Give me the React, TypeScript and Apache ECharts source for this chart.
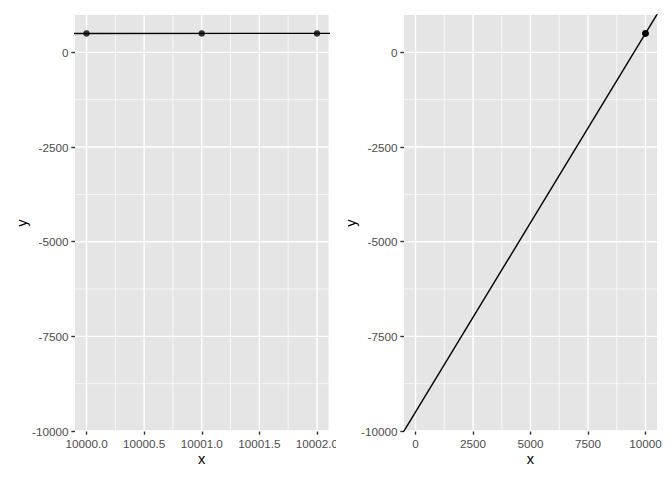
import React, { useEffect, useRef } from "react";
import * as echarts from "echarts";

// data points
const pointX = [10000, 10001, 10002];
const pointY = [500, 500, 500];
// reference line y = intercept + slope * x
const ablineIntercept = -9500;
const ablineSlope = 1;

// shared y scale
const yMin = -10000;
const yMax = 987;
const yBreaks = [-10000, -7500, -5000, -2500, 0];
const yMinor = [-8750, -6250, -3750, -1250];

// left panel x scale
const leftXMin = 9999.9;
const leftXMax = 10002.1;
const leftXBreaks = [10000, 10000.5, 10001, 10001.5, 10002];
const leftXMinor = [10000.25, 10000.75, 10001.25, 10001.75];

// right panel x scale
const rightXMin = -500;
const rightXMax = 10502;
const rightXBreaks = [0, 2500, 5000, 7500, 10000];
const rightXMinor = [1250, 3750, 6250, 8750];

const FONT = "'Liberation Sans', Arial, Helvetica, sans-serif";
const MAJOR_W = 1.42;
const MINOR_W = 0.71;

type PanelCfg = {
  xMin: number;
  xMax: number;
  xBreaks: number[];
  xMinor: number[];
  xFmt: (v: number) => string;
  gridLeft: number;
  gridRight: number;
  yTitleX: number;
};

function buildOption(c: PanelCfg): any {
  const gridTop = 15;
  const gridBottom = 49;
  const vline = (v: number, w: number) => ({
    type: "line",
    data: [
      [v, yMin],
      [v, yMax],
    ],
    symbol: "none",
    silent: true,
    lineStyle: { color: "#ffffff", width: w },
    z: 1,
  });
  const hline = (v: number, w: number) => ({
    type: "line",
    data: [
      [c.xMin, v],
      [c.xMax, v],
    ],
    symbol: "none",
    silent: true,
    lineStyle: { color: "#ffffff", width: w },
    z: 1,
  });
  const series: any[] = [
    ...c.xMinor.map((v) => vline(v, MINOR_W)),
    ...yMinor.map((v) => hline(v, MINOR_W)),
    ...c.xBreaks.map((v) => vline(v, MAJOR_W)),
    ...yBreaks.map((v) => hline(v, MAJOR_W)),
    {
      type: "line",
      data: [
        [c.xMin - 1000, ablineIntercept + ablineSlope * (c.xMin - 1000)],
        [c.xMax + 1000, ablineIntercept + ablineSlope * (c.xMax + 1000)],
      ],
      symbol: "none",
      clip: true,
      lineStyle: { color: "#000000", width: 1.42 },
      z: 3,
    },
    {
      type: "scatter",
      data: pointX.map((x, i) => [x, pointY[i]]),
      symbolSize: 6.5,
      itemStyle: { color: "#000000" },
      z: 4,
    },
  ];
  const width = 336;
  const panelCenterX = c.gridLeft + (width - c.gridLeft - c.gridRight) / 2;
  const panelCenterY = gridTop + (480 - gridTop - gridBottom) / 2;
  return {
    animation: false,
    backgroundColor: "#ffffff",
    grid: {
      left: c.gridLeft,
      right: c.gridRight,
      top: gridTop,
      bottom: gridBottom,
      show: true,
      backgroundColor: "#E5E5E5",
      borderWidth: 0,
      containLabel: false,
      outerBoundsMode: "none",
    },
    xAxis: {
      type: "value",
      min: c.xMin,
      max: c.xMax,
      axisLine: { show: false, onZero: false },
      splitLine: { show: false },
      axisTick: {
        show: true,
        length: 3.67,
        customValues: c.xBreaks,
        lineStyle: { color: "#333333", width: 1.42 },
      },
      axisLabel: {
        customValues: c.xBreaks,
        formatter: (v: number) => c.xFmt(v),
        color: "#4D4D4D",
        fontSize: 11.7,
        fontFamily: FONT,
        margin: 6,
      },
    },
    yAxis: {
      type: "value",
      min: yMin,
      max: yMax,
      axisLine: { show: false, onZero: false },
      splitLine: { show: false },
      axisTick: {
        show: true,
        length: 3.67,
        customValues: yBreaks,
        lineStyle: { color: "#333333", width: 1.42 },
      },
      axisLabel: {
        customValues: yBreaks,
        formatter: (v: number) => String(v),
        color: "#4D4D4D",
        fontSize: 11.7,
        fontFamily: FONT,
        margin: 6.5,
      },
    },
    graphic: [
      {
        type: "text",
        x: panelCenterX,
        y: 459,
        style: {
          text: "x",
          fontSize: 14.67,
          fontFamily: FONT,
          fill: "#000000",
          textAlign: "center",
          textVerticalAlign: "middle",
        },
      },
      {
        type: "text",
        x: c.yTitleX,
        y: panelCenterY,
        rotation: Math.PI / 2,
        style: {
          text: "y",
          fontSize: 14.67,
          fontFamily: FONT,
          fill: "#000000",
          textAlign: "center",
          textVerticalAlign: "middle",
        },
      },
    ],
    series,
  };
}

function Panel({ cfg, left }: { cfg: PanelCfg; left: number }) {
  const ref = useRef<HTMLDivElement>(null);
  useEffect(() => {
    if (!ref.current) return;
    const chart = echarts.init(ref.current, undefined, { renderer: "svg" });
    chart.setOption(buildOption(cfg));
    return () => chart.dispose();
  }, [cfg]);
  return (
    <div
      ref={ref}
      style={{
        position: "absolute",
        left,
        top: 0,
        width: 336,
        height: 480,
        overflow: "hidden",
      }}
    />
  );
}

const leftCfg: PanelCfg = {
  xMin: leftXMin,
  xMax: leftXMax,
  xBreaks: leftXBreaks,
  xMinor: leftXMinor,
  xFmt: (v) => v.toFixed(1),
  gridLeft: 75,
  gridRight: 7.5,
  yTitleX: 22,
};

const rightCfg: PanelCfg = {
  xMin: rightXMin,
  xMax: rightXMax,
  xBreaks: rightXBreaks,
  xMinor: rightXMinor,
  xFmt: (v) => String(v),
  gridLeft: 68,
  gridRight: 15,
  yTitleX: 14.5,
};

export default function App() {
  return (
    <div style={{ position: "absolute", left: 0, top: 0, width: 672, height: 480, background: "#fff" }}>
      <Panel cfg={leftCfg} left={0} />
      <Panel cfg={rightCfg} left={336} />
    </div>
  );
}
